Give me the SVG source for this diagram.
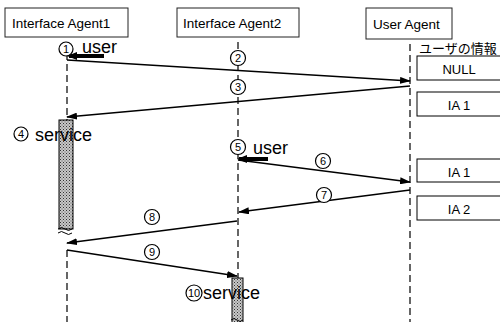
<svg xmlns="http://www.w3.org/2000/svg" width="500" height="322" viewBox="0 0 500 322">
<style>
.hdr{fill:#fff;stroke:#222;stroke-width:1}
.ht{font-family:"Liberation Sans",Arial,sans-serif;font-size:13.5px;fill:#000}
.life{stroke:#000;stroke-width:1.2;stroke-dasharray:7 4;fill:none}
.msg{stroke:#000;stroke-width:1.6;fill:none;marker-end:url(#ah)}
.thick{stroke:#000;stroke-width:4;fill:none;marker-end:url(#ahb)}
.num circle{fill:#fff;stroke:#000;stroke-width:1.2}
.num text{font-family:"Liberation Sans",Arial,sans-serif;font-size:11px;text-anchor:middle;fill:#000}
.lbl{font-family:"Liberation Sans",Arial,sans-serif;font-size:18px;fill:#000}
.info{fill:#fff;stroke:#000;stroke-width:1}
.it{font-family:"Liberation Sans",Arial,sans-serif;font-size:13px;text-anchor:middle;fill:#000}
.bar{fill:url(#dots);stroke:#000;stroke-width:1}
.wave{stroke:#000;stroke-width:1;fill:none}
</style>
<defs>
<pattern id="dots" width="3" height="3" patternUnits="userSpaceOnUse">
<rect width="3" height="3" fill="#c8c8c8"/>
<rect width="1" height="1" fill="#333"/>
<rect x="1.5" y="1.5" width="1" height="1" fill="#555"/>
</pattern>
<marker id="ah" markerWidth="11" markerHeight="7" refX="10" refY="3.5" orient="auto" markerUnits="userSpaceOnUse">
<path d="M0,0 L11,3.5 L0,7 Z" fill="#000"/>
</marker>
<marker id="ahb" markerWidth="10" markerHeight="8" refX="8" refY="4" orient="auto" markerUnits="userSpaceOnUse">
<path d="M0,0 L10,4 L0,8 Z" fill="#000"/>
</marker>
</defs>

<g id="ia1">
<rect class="hdr" x="5" y="8" width="123" height="29"/>
<text class="ht" x="12" y="28">Interface Agent1</text>
<line class="life" x1="67" y1="42" x2="67" y2="120"/>
<rect class="bar" x="59" y="120" width="14" height="109"/>
<path class="wave" d="M58,229 q3.5,-3 7,0 t7,0 M58,233 q3.5,-3 7,0 t7,0"/>
<line class="life" x1="67" y1="250" x2="67" y2="322"/>
</g>

<g id="ia2">
<rect class="hdr" x="177" y="8" width="122" height="29"/>
<text class="ht" x="183" y="28">Interface Agent2</text>
<line class="life" x1="238" y1="42" x2="238" y2="278"/>
<rect class="bar" x="232" y="278" width="11" height="46"/>
<path class="wave" d="M231,320 q3,-3 6,0 t6,0"/>
</g>

<g id="ua">
<rect class="hdr" x="366" y="8" width="86" height="31"/>
<text class="ht" x="373" y="29">User Agent</text>
<line class="life" x1="410" y1="44" x2="410" y2="322"/>
</g>

<g id="userinfo">
<text x="419" y="53" font-family="'Noto Sans CJK JP',sans-serif" font-size="13">ユーザの情報</text>
<rect class="info" x="417" y="56" width="100" height="24"/>
<text class="it" x="459" y="74">NULL</text>
<rect class="info" x="417" y="92" width="100" height="24"/>
<text class="it" x="459" y="110">IA 1</text>
<rect class="info" x="417" y="159" width="100" height="23"/>
<text class="it" x="459" y="177">IA 1</text>
<rect class="info" x="417" y="196" width="100" height="24"/>
<text class="it" x="459" y="214">IA 2</text>
</g>

<g id="connectors">
<line class="thick" x1="104" y1="56" x2="69" y2="56"/>
<line class="msg" x1="67" y1="60" x2="410" y2="81"/>
<line class="msg" x1="410" y1="86" x2="67" y2="117"/>
<line class="thick" x1="268" y1="159" x2="239" y2="159"/>
<line class="msg" x1="238" y1="160" x2="410" y2="182"/>
<line class="msg" x1="410" y1="190" x2="239" y2="212"/>
<line class="msg" x1="237" y1="221" x2="67" y2="243"/>
<line class="msg" x1="67" y1="250" x2="237" y2="276"/>
</g>

<g id="labels">
<g class="num"><circle cx="66" cy="49" r="7"/><text x="66" y="53">1</text></g>
<text class="lbl" x="82" y="53">user</text>
<g class="num"><circle cx="238" cy="58" r="7.5"/><text x="238" y="62">2</text></g>
<g class="num"><circle cx="238" cy="87" r="7.5"/><text x="238" y="91">3</text></g>
<g class="num"><circle cx="21" cy="134" r="7"/><text x="21" y="138">4</text></g>
<text class="lbl" x="35" y="141">service</text>
<g class="num"><circle cx="238" cy="147" r="7.5"/><text x="238" y="151">5</text></g>
<text class="lbl" x="253" y="154">user</text>
<g class="num"><circle cx="323" cy="161" r="7.5"/><text x="323" y="165">6</text></g>
<g class="num"><circle cx="324" cy="195" r="7.5"/><text x="324" y="199">7</text></g>
<g class="num"><circle cx="152" cy="217" r="7.5"/><text x="152" y="221">8</text></g>
<g class="num"><circle cx="152" cy="252" r="7.5"/><text x="152" y="256">9</text></g>
<g class="num"><circle cx="194" cy="293" r="8"/><text x="194" y="297">10</text></g>
<text class="lbl" x="203" y="299">service</text>
</g>
</svg>
